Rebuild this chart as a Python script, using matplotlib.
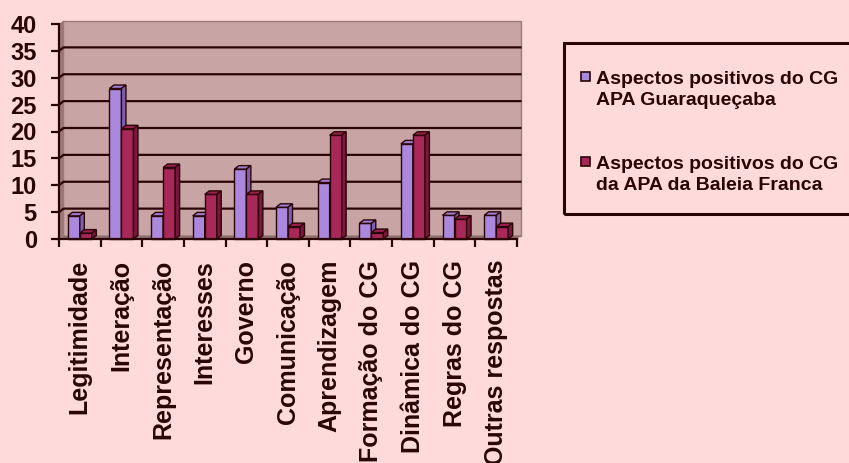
import numpy as np
import matplotlib.pyplot as plt
from matplotlib.patches import Polygon, Rectangle

plt.rcParams['font.family'] = ['Liberation Sans', 'DejaVu Sans']

# Data
categories = ['Legitimidade', 'Interação', 'Representação', 'Interesses', 'Governo',
              'Comunicação', 'Aprendizagem', 'Formação do CG', 'Dinâmica do CG',
              'Regras do CG', 'Outras respostas']
guaraquecaba = [4.3, 28.0, 4.3, 4.3, 13.0, 5.9, 10.5, 2.9, 17.7, 4.4, 4.4]
baleia_franca = [1.1, 20.5, 13.3, 8.3, 8.3, 2.3, 19.3, 1.2, 19.3, 3.7, 2.3]
series_labels = ['Aspectos positivos do CG\nAPA Guaraqueçaba',
                 'Aspectos positivos do CG\nda APA da Baleia Franca']
yticks = [0, 5, 10, 15, 20, 25, 30, 35, 40]

# colours: (front, top, side)
lav = ('#AA88DD', '#9B7BD0', '#7A60AE')
mar = ('#A8285A', '#98204E', '#7A1640')
bg = '#FFDADA'
wall_c = '#C8A4A4'
ink = '#2B0505'

W, H = 849, 463
fig = plt.figure(figsize=(W / 100, H / 100), dpi=100, facecolor=bg)

# axes box in pixels: x 59..517, y(0)=239, y(40)=24
ax = fig.add_axes([59 / W, 1 - 239 / H, 458 / W, 215 / H])
ax.set_facecolor('none')
n = len(categories)
ax.set_xlim(0, n)
ax.set_ylim(0, 40)

dx = 4.5 / (458 / n)
dy = 3.5 / (215 / 40)

def poly(pts, fc, ec='none', lw=0.0, z=1):
    ax.add_patch(Polygon(pts, closed=True, facecolor=fc, edgecolor=ec,
                         linewidth=lw, zorder=z, clip_on=False))

# walls and floor
poly([(dx, dy), (n + dx, dy), (n + dx, 40 + dy), (dx, 40 + dy)], wall_c, '#9A7A7A', 1.0, 0.5)
poly([(0, 0), (dx, dy), (dx, 40 + dy), (0, 40)], '#9C7878', z=0.6)
poly([(0, 0), (n, 0), (n + dx, dy), (dx, dy)], '#8E7070', z=0.6)

# gridlines on the back wall
for v in yticks[1:-1]:
    ax.plot([0, dx, n + dx], [v, v + dy, v + dy], color=ink, lw=1.6, zorder=0.8,
            clip_on=False, solid_capstyle='butt')

# 3D-looking bars
w = 12 / (458 / n)
def bar3d(x0, h, cols, z):
    x1 = x0 + w
    poly([(x0, 0), (x1, 0), (x1, h), (x0, h)], cols[0], ink, 1.0, z)
    poly([(x0, h), (x0 + dx, h + dy), (x1 + dx, h + dy), (x1, h)], cols[1], ink, 1.0, z)
    poly([(x1, 0), (x1 + dx, dy), (x1 + dx, h + dy), (x1, h)], cols[2], ink, 1.0, z)

for i in range(n):
    c = i + 0.5
    bar3d(c - w, guaraquecaba[i], lav, 2 + i * 0.01)
    bar3d(c, baleia_franca[i], mar, 2.005 + i * 0.01)

# axes styling
for s in ['top', 'right']:
    ax.spines[s].set_visible(False)
for s in ['left', 'bottom']:
    ax.spines[s].set_color(ink)
    ax.spines[s].set_linewidth(1.6)
    ax.spines[s].set_zorder(3)

ax.set_yticks(yticks)
ax.set_yticklabels([str(t) for t in yticks], fontsize=17, fontweight='bold', color=ink)
ax.tick_params(axis='y', length=6, width=1.6, color=ink, pad=10)

ax.set_xticks(np.arange(n + 1))
ax.set_xticklabels([])
ax.tick_params(axis='x', which='major', length=6, width=1.6, color=ink)
ax.set_xticks(np.arange(n) + 0.5, minor=True)
ax.set_xticklabels(categories, minor=True, rotation=90, fontsize=18,
                   fontweight='bold', color=ink)
ax.tick_params(axis='x', which='minor', length=0, pad=15)

# legend drawn by hand
def px(x, y):
    return x / W, 1 - y / H

fig.patches.append(Rectangle(px(564, 214), (W - 564 + 5) / W, (214 - 43) / H,
                             transform=fig.transFigure, facecolor='none',
                             edgecolor=ink, linewidth=2.2))
entry_top = [72, 157]
for lab, cols, top in zip(series_labels, [lav, mar], entry_top):
    fig.patches.append(Rectangle(px(581, top + 9), 9 / W, 9 / H,
                                 transform=fig.transFigure, facecolor=cols[0],
                                 edgecolor=ink, linewidth=1.2))
    for k, line in enumerate(lab.split('\n')):
        x, y = px(596, top + 12 + k * 21)
        fig.text(x, y, line, fontsize=14, fontweight='bold', color=ink,
                 va='baseline', ha='left')

fig.savefig('out.png', dpi=100, facecolor=bg)
